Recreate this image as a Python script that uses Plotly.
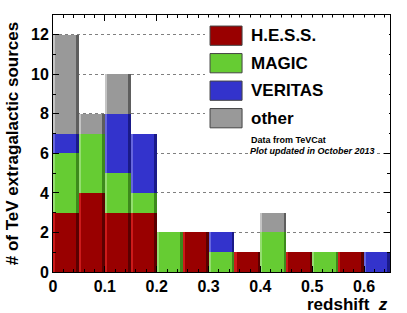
import numpy as np
import plotly.graph_objects as go

# ---- data ----
bin_left = [0.00, 0.05, 0.10, 0.15, 0.20, 0.25, 0.30, 0.35, 0.40, 0.45, 0.50, 0.55, 0.60]
bin_width = 0.05
hess    = [3, 4, 3, 3, 0, 2, 0, 1, 0, 1, 0, 1, 0]
magic   = [3, 3, 2, 1, 2, 0, 1, 0, 2, 0, 1, 0, 0]
veritas = [1, 0, 3, 3, 0, 0, 1, 0, 0, 0, 0, 0, 1]
other   = [5, 1, 2, 0, 0, 0, 0, 0, 1, 0, 0, 0, 0]
series_names = ["H.E.S.S.", "MAGIC", "VERITAS", "other"]
x_ticks = [0, 0.1, 0.2, 0.3, 0.4, 0.5, 0.6]
y_ticks = [0, 2, 4, 6, 8, 10, 12]

colors = ["#990000", "#66cc33", "#3333cc", "#999999"]
light = ["#cc1a1a", "#94dd70", "#6666dd", "#c4c4c4"]
dark = ["#5a0000", "#3d8a1c", "#1a1a88", "#5e5e5e"]

FONT = "Liberation Sans"

fig = go.Figure()
centers = np.array(bin_left) + bin_width / 2
base = np.zeros(len(bin_left))
edge_l = 0.004
edge_r = 0.005
for name, vals, c, cl, cd in zip(series_names, [hess, magic, veritas, other], colors, light, dark):
    v = np.array(vals, dtype=float)
    fig.add_trace(go.Bar(x=centers, y=v, base=base.copy(), width=bin_width,
                         marker=dict(color=c, line=dict(width=0)), name=name,
                         showlegend=False))
    # ROOT-style bar shading: lighter left edge, darker right edge
    fig.add_trace(go.Bar(x=np.array(bin_left) + edge_l / 2, y=v, base=base.copy(), width=edge_l,
                         marker=dict(color=cl, line=dict(width=0)), showlegend=False,
                         hoverinfo="skip"))
    fig.add_trace(go.Bar(x=np.array(bin_left) + bin_width - edge_r / 2, y=v, base=base.copy(),
                         width=edge_r, marker=dict(color=cd, line=dict(width=0)),
                         showlegend=False, hoverinfo="skip"))
    base = base + v

# ---- manual legend (ROOT-like large swatches) ----
shapes = [dict(type="rect", xref="paper", yref="paper", x0=0.451, x1=0.997, y0=0.494, y1=0.99,
               fillcolor="white", line=dict(width=0), layer="above")]
annotations = []
top0 = 0.957
step = 0.107
for i, (name, c) in enumerate(zip(series_names, colors)):
    y1 = top0 - i * step
    y0 = y1 - 0.075
    shapes.append(dict(type="rect", xref="paper", yref="paper", x0=0.466, x1=0.561, y0=y0, y1=y1,
                       fillcolor=c, line=dict(color="#444444", width=1), layer="above"))
    annotations.append(dict(x=0.582, y=(y0 + y1) / 2, xref="paper", yref="paper", text=name,
                            showarrow=False, xanchor="left", yanchor="middle",
                            font=dict(family=FONT, size=17, color="black", weight="bold")))

annotations.append(dict(x=0.582, y=(272 - 140) / 257, xref="paper", yref="paper",
                        text="Data from TeVCat", showarrow=False, xanchor="left", yanchor="middle",
                        font=dict(family=FONT, size=9, color="black", weight="bold")))
annotations.append(dict(x=0.582, y=(272 - 151) / 257, xref="paper", yref="paper",
                        text="<i>Plot updated in October 2013</i>", showarrow=False,
                        xanchor="left", yanchor="middle", bgcolor="white", borderpad=0,
                        font=dict(family=FONT, size=9, color="black", weight="bold")))
annotations.append(dict(x=1.0, y=(272 - 304) / 257, xref="paper", yref="paper",
                        text="redshift  <i>z</i>", showarrow=False, xanchor="right",
                        yanchor="middle",
                        font=dict(family=FONT, size=17, color="black", weight="bold")))

fig.update_layout(
    width=407, height=313,
    margin=dict(l=53, r=17, t=15, b=41),
    paper_bgcolor="white", plot_bgcolor="white",
    barmode="overlay", bargap=0,
    shapes=shapes, annotations=annotations,
    showlegend=False,
    font=dict(family=FONT, color="black"),
)
fig.update_xaxes(
    range=[0, 0.65], tickvals=x_ticks, ticktext=[("%g" % t) for t in x_ticks],
    ticks="inside", ticklen=6, tickcolor="black", mirror="ticks", automargin=False,
    showline=True, linecolor="black", linewidth=1, showgrid=False, zeroline=False,
    minor=dict(ticks="inside", dtick=0.02, tick0=0, ticklen=3, tickcolor="black", showgrid=False),
    tickfont=dict(family=FONT, size=16, color="black", weight="bold"),
)
fig.update_yaxes(
    range=[0, 13], tickvals=y_ticks, automargin=False,
    ticks="inside", ticklen=6, tickcolor="black", mirror="ticks",
    showline=True, linecolor="black", linewidth=1,
    showgrid=True, gridcolor="#808080", gridwidth=1, griddash="dot", zeroline=False,
    minor=dict(ticks="inside", dtick=1, tick0=0, ticklen=3, tickcolor="black", showgrid=False),
    tickfont=dict(family=FONT, size=16, color="black", weight="bold"),
    title=dict(text="# of TeV extragalactic sources", standoff=8,
               font=dict(family=FONT, size=17, color="black", weight="bold")),
)

fig.write_html("out.html", config={"displayModeBar": False},
               post_script="document.body.style.margin='0px';")
